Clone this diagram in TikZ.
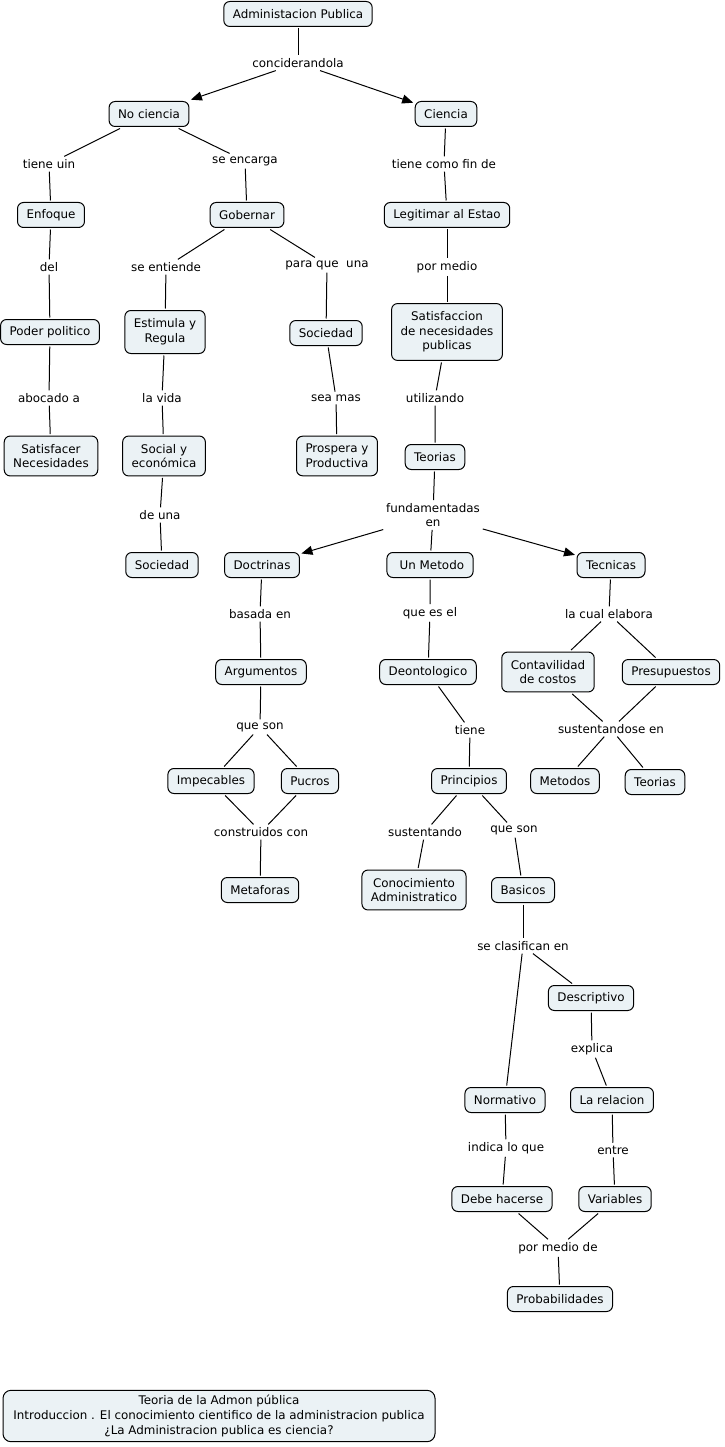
\documentclass[tikz,border=0pt]{standalone}
\usepackage{fontspec}
\setmainfont{DejaVu Sans}
\usetikzlibrary{arrows.meta}
\definecolor{cfill}{RGB}{235,242,245}
\begin{document}
\begin{tikzpicture}[x=1pt,y=-1pt,
 font=\fontsize{11.9}{14.7}\selectfont,
 concept/.style={draw=black, fill=cfill, rounded corners=6pt, line width=1pt, inner xsep=9pt, inner ysep=6pt, minimum height=25pt, align=center, outer sep=2pt},
 multi/.style={inner ysep=8pt},
 lnk/.style={inner sep=2pt, align=center, outer sep=1pt},
 conn/.style={line width=1pt},
 arr/.style={line width=1pt, -{Triangle[length=11pt,width=9pt]}}]
\useasboundingbox (0,0) rectangle (724,1447);
% concepts
\node[concept] (ap) at (298,14) {Administacion Publica};
\node[concept] (noc) at (149,114) {No ciencia};
\node[concept] (cie) at (446,114) {Ciencia};
\node[concept] (enf) at (51,215) {Enfoque};
\node[concept] (gob) at (247,215) {Gobernar};
\node[concept] (leg) at (447,215) {Legitimar al Estao};
\node[concept] (pod) at (50,332) {Poder politico};
\node[concept, multi, minimum height=43pt] (est) at (165,332) {Estimula y\\Regula};
\node[concept] (soc1) at (326,333) {Sociedad};
\node[concept, multi] (satn) at (447,332) {Satisfaccion\\de necesidades\\publicas};
\node[concept, multi] (satf) at (51,456) {Satisfacer\\Necesidades};
\node[concept, multi] (sye) at (164,456) {Social y\\económica};
\node[concept, multi] (pros) at (337,456) {Prospera y\\Productiva};
\node[concept] (teo1) at (435,457) {Teorias};
\node[concept] (soc2) at (162,565) {Sociedad};
\node[concept] (doc) at (262,565) {Doctrinas};
\node[concept, minimum width=85pt] (um) at (430,565) {\ Un Metodo};
\node[concept] (tec) at (611,565) {Tecnicas};
\node[concept] (arg) at (261,672) {Argumentos};
\node[concept] (deo) at (428,672) {Deontologico};
\node[concept, multi] (con) at (548,672) {Contavilidad\\de costos};
\node[concept] (pre) at (671,672) {Presupuestos};
\node[concept] (imp) at (211,781) {Impecables};
\node[concept] (puc) at (310,781) {Pucros};
\node[concept] (pri) at (469,781) {Principios};
\node[concept] (met) at (565,781) {Metodos};
\node[concept] (teo2) at (655,782) {Teorias};
\node[concept] (meta) at (260,890) {Metaforas};
\node[concept, multi] (cono) at (414,890) {Conocimiento\\Administratico};
\node[concept] (bas) at (523,890) {Basicos};
\node[concept] (des) at (591,998) {Descriptivo};
\node[concept] (nor) at (505,1100) {Normativo};
\node[concept] (lar) at (612,1100) {La relacion};
\node[concept] (deb) at (502,1199) {Debe hacerse};
\node[concept] (var) at (615,1199) {Variables};
\node[concept] (prob) at (560,1299) {Probabilidades};
\node[concept, rounded corners=8pt, minimum width=432pt, inner ysep=5pt] (foot) at (219,1416) {Teoria de la Admon pública\\Introduccion . El conocimiento cientifico de la administracion publica\\¿La Administracion publica es ciencia?};
% linking phrases
\node[lnk] (l1) at (298,63) {conciderandola};
\node[lnk] (l2) at (49,164) {tiene uin};
\node[lnk] (l3) at (245,161) {se encarga};
\node[lnk] (l4) at (444,164) {tiene como fin de};
\node[lnk] (l5) at (49,267) {del};
\node[lnk] (l6) at (166,267) {se entiende};
\node[lnk] (l7) at (327,265) {para que\ \ una};
\node[lnk] (l8) at (447,267) {por medio};
\node[lnk] (l9) at (49,398) {abocado a};
\node[lnk] (l10) at (162,398) {la vida};
\node[lnk] (l11) at (336,398) {sea mas};
\node[lnk] (l12) at (435,398) {utilizando};
\node[lnk] (l13) at (160,515) {de una};
\node[lnk] (l14) at (433,515) {fundamentadas\\en};
\node[lnk] (l15) at (260,614) {basada en};
\node[lnk] (l16) at (430,613) {que es el};
\node[lnk] (l17) at (609,614) {la cual elabora};
\node[lnk] (l18) at (260,727) {que son};
\node[lnk] (l19) at (470,730) {tiene};
\node[lnk] (l20) at (611,729) {sustentandose en};
\node[lnk] (l21) at (261,832) {construidos con};
\node[lnk] (l22) at (425,832) {sustentando};
\node[lnk] (l23) at (514,830) {que son};
\node[lnk] (l24) at (523,946) {se clasifican en};
\node[lnk] (l25) at (592,1049) {explica};
\node[lnk] (l26) at (506,1148) {indica lo que};
\node[lnk] (l27) at (613,1150) {entre};
\node[lnk] (l28) at (558,1248) {por medio de};
% connectors
\draw[conn] (ap) -- (l1);
\draw[arr] (l1) -- (noc);
\draw[arr] (l1) -- (cie);
\draw[conn] (noc) -- (l2) -- (enf);
\draw[conn] (noc) -- (l3) -- (gob);
\draw[conn] (cie) -- (l4) -- (leg);
\draw[conn] (enf) -- (l5) -- (pod);
\draw[conn] (gob) -- (l6) -- (est);
\draw[conn] (gob) -- (l7) -- (soc1);
\draw[conn] (leg) -- (l8) -- (satn);
\draw[conn] (pod) -- (l9) -- (satf);
\draw[conn] (est) -- (l10) -- (sye);
\draw[conn] (soc1) -- (l11) -- (pros);
\draw[conn] (satn) -- (l12) -- (teo1);
\draw[conn] (sye) -- (l13) -- (soc2);
\draw[conn] (teo1) -- (l14);
\draw[arr] (l14) -- (doc);
\draw[conn] (l14) -- (um);
\draw[arr] (l14) -- (tec);
\draw[conn] (doc) -- (l15) -- (arg);
\draw[conn] (um) -- (l16) -- (deo);
\draw[conn] (tec) -- (l17);
\draw[conn] (l17) -- (con);
\draw[conn] (l17) -- (pre);
\draw[conn] (arg) -- (l18);
\draw[conn] (l18) -- (imp);
\draw[conn] (l18) -- (puc);
\draw[conn] (deo) -- (l19) -- (pri);
\draw[conn] (con) -- (l20);
\draw[conn] (pre) -- (l20);
\draw[conn] (l20) -- (met);
\draw[conn] (l20) -- (teo2);
\draw[conn] (imp) -- (l21);
\draw[conn] (puc) -- (l21);
\draw[conn] (l21) -- (meta);
\draw[conn] (pri) -- (l22) -- (cono);
\draw[conn] (pri) -- (l23) -- (bas);
\draw[conn] (bas) -- (l24);
\draw[conn] (l24) -- (des);
\draw[conn] (l24) -- (nor);
\draw[conn] (des) -- (l25) -- (lar);
\draw[conn] (nor) -- (l26) -- (deb);
\draw[conn] (lar) -- (l27) -- (var);
\draw[conn] (deb) -- (l28);
\draw[conn] (var) -- (l28);
\draw[conn] (l28) -- (prob);
\end{tikzpicture}
\end{document}
